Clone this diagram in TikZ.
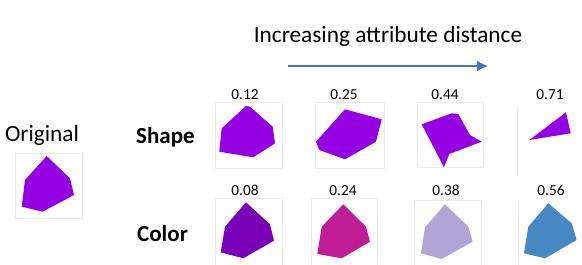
\documentclass[tikz,border=0pt]{standalone}
\usepackage{fontspec}
\setmainfont{Carlito}
\usetikzlibrary{arrows.meta}
\begin{document}
\begin{tikzpicture}[x=1pt,y=-1pt,
  lbl/.style={anchor=base,inner sep=0pt,font=\fontsize{15.3}{16}\selectfont},
  big/.style={anchor=base,inner sep=0pt,font=\fontsize{23.3}{24}\selectfont},
  rowlbl/.style={anchor=base west,inner sep=0pt,font=\fontsize{23}{24}\selectfont\bfseries},
  frame/.style={draw=black!8,line width=0.8pt}]
\useasboundingbox (0,0) rectangle (582,265);
\definecolor{pv}{RGB}{148,0,226}
\definecolor{c1}{RGB}{120,0,182}
\definecolor{c2}{RGB}{192,28,150}
\definecolor{c3}{RGB}{176,165,212}
\definecolor{c4}{RGB}{72,136,194}
\definecolor{arr}{RGB}{68,114,196}

% title and arrow
\node[big] (title) at (388,42.7) {Increasing attribute distance};
\coordinate (a0) at (288,66);
\coordinate (a1) at (488,66);
\draw[arr,line width=1.4pt,-{Latex[length=11pt,width=11pt]}] (a0) -- (a1);

% original
\node[big] (orig) at (42,141) {Original};
\draw[frame] (15,153) rectangle (82,218);
\fill[pv] (46.7,156) -- (70,178.3) -- (74,195) -- (42.7,211.7) -- (21.7,206.7) -- (25,180) -- cycle;

% row labels
\node[rowlbl] (shape) at (136,143) {Shape};
\node[rowlbl] (color) at (137,241) {Color};

% row 1 frames
\draw[frame] (215,102) rectangle (282,168);
\draw[frame] (315,102) rectangle (384,168);
\draw[frame] (417,102) rectangle (483,167);
\draw[frame] (517,108) -- (517,174);
% row 1 labels
\node[lbl] (s1) at (245,99) {0.12};
\node[lbl] (s2) at (344,99) {0.25};
\node[lbl] (s3) at (445,99) {0.44};
\node[lbl] (s4) at (550,99) {0.71};
% row 1 shapes
\fill[pv] (246,106) -- (250,106.7) -- (272.7,126.7) -- (275,143.3) -- (253.3,157.3) -- (219.3,151.7) -- (221.7,128.3) -- cycle;
\fill[pv] (345,109.3) -- (381.7,119.3) -- (376,141.7) -- (345,159.3) -- (319.3,150) -- (316,141.7) -- cycle;
\fill[pv] (421.7,124.3) -- (451.7,113.3) -- (458.3,114) -- (470,135) -- (481.7,141.7) -- (449.3,154) -- (444,167.3) -- cycle;
\fill[pv] (529.3,140) -- (566,112.3) -- (570.7,133.3) -- cycle;

% row 2 frames
\draw[frame] (215,198) rectangle (282,266);
\draw[frame] (311,198) rectangle (377,266);
\draw[frame] (414,200) rectangle (481,266);
\draw[frame] (518,200) -- (518,266);
% row 2 labels
\node[lbl] (c1l) at (245,195) {0.08};
\node[lbl] (c2l) at (343,195) {0.24};
\node[lbl] (c3l) at (446,195) {0.38};
\node[lbl] (c4l) at (551,195) {0.56};
% row 2 shapes
\fill[c1] (246,202.3) -- (270,224.3) -- (274,240.7) -- (243.3,258.3) -- (220.7,252.3) -- (225,226.7) -- cycle;
\fill[c2] (343.3,204.3) -- (366,226.7) -- (370,241.7) -- (341.7,258.3) -- (317.3,254) -- (321.7,226.7) -- cycle;
\fill[c3] (445,204.3) -- (468.3,226.7) -- (472.7,241.7) -- (441.7,259) -- (421,253.3) -- (425,227.3) -- cycle;
\fill[c4] (548.3,203.3) -- (571.7,223.3) -- (576.7,240) -- (545,258.3) -- (524,253.3) -- (528.3,226.7) -- cycle;
\end{tikzpicture}
\end{document}
